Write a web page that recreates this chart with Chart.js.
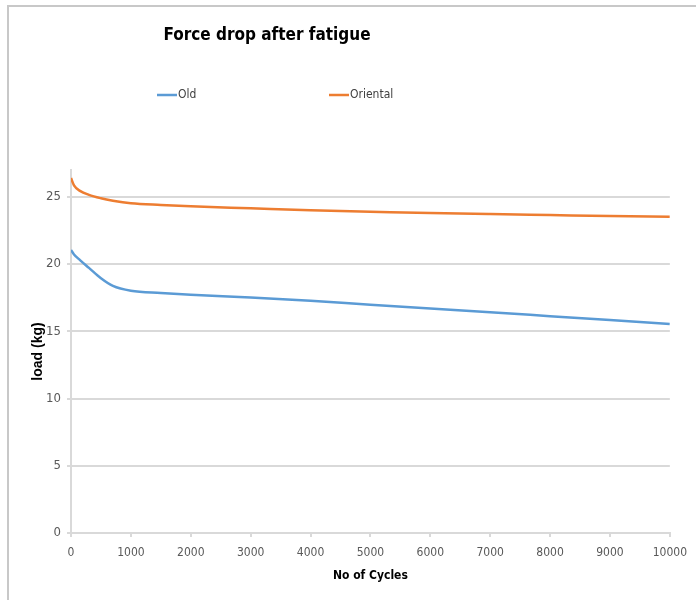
<!DOCTYPE html>
<html>
<head>
<meta charset="utf-8">
<script src="https://cdn.jsdelivr.net/npm/chart.js@4.4.0/dist/chart.umd.min.js"></script>
<style>
  html, body { margin: 0; padding: 0; background: #fff; overflow: hidden; }
  #chart { display: block; }
</style>
</head>
<body>
<canvas id="chart" width="696" height="600"></canvas>
<script>
// data
const cycles = [0, 50, 150, 300, 500, 700, 1000, 1500, 2000, 3000, 4000, 5000, 6000, 7000, 8000, 9000, 10000];
const oldLoad = [21.05, 20.72, 20.3, 19.72, 18.95, 18.38, 18.02, 17.85, 17.72, 17.52, 17.28, 16.98, 16.7, 16.42, 16.13, 15.84, 15.55];
const orientalLoad = [26.4, 25.85, 25.45, 25.15, 24.9, 24.72, 24.53, 24.4, 24.3, 24.15, 24.0, 23.9, 23.8, 23.72, 23.65, 23.58, 23.52];
const seriesNames = ["Old", "Oriental"];
const seriesColors = ["#5b9bd5", "#ed7d31"];
const yTicks = [0, 5, 10, 15, 20, 25];
const chartTitle = "Force drop after fatigue";

const NARROW = '"Liberation Sans Narrow", "DejaVu Sans Condensed", "Liberation Sans", sans-serif';
const WIDE = '"Liberation Sans", Arial, sans-serif';
const GRID = "#d9d9d9";

const toPoints = (ys) => cycles.map((c, i) => ({ x: c, y: ys[i] }));

// cropped outer frame: only top and left edges show in the original
const frame = {
  id: "frame",
  beforeDraw(chart) {
    const c = chart.ctx;
    c.save();
    c.strokeStyle = "#c8c8c8";
    c.lineWidth = 2;
    c.beginPath();
    c.moveTo(8, chart.height);
    c.lineTo(8, 6);
    c.lineTo(chart.width, 6);
    c.stroke();
    c.restore();
  }
};

// title + legend drawn by hand: the original sits them left of centre
// and spreads the two legend entries far apart
const legendPos = [157, 329];
const header = {
  id: "header",
  afterDraw(chart) {
    const c = chart.ctx;
    c.save();
    c.font = "bold 17px " + NARROW;
    c.fillStyle = "#000";
    c.textAlign = "center";
    c.textBaseline = "middle";
    c.fillText(chartTitle, 267, 36);

    c.font = "12px " + NARROW;
    c.textAlign = "left";
    chart.data.datasets.forEach((ds, i) => {
      const x = legendPos[i];
      const y = 95;
      c.strokeStyle = ds.borderColor;
      c.lineWidth = 2.5;
      c.beginPath();
      c.moveTo(x, y);
      c.lineTo(x + 20, y);
      c.stroke();
      c.fillStyle = "#404040";
      c.fillText(ds.label, x + 21, y);
    });
    c.restore();
  }
};

new Chart(document.getElementById("chart"), {
  type: "line",
  data: {
    datasets: [
      {
        label: seriesNames[0],
        data: toPoints(oldLoad),
        borderColor: seriesColors[0],
        backgroundColor: seriesColors[0],
        borderWidth: 2.5,
        pointRadius: 0,
        cubicInterpolationMode: "monotone",
        fill: false
      },
      {
        label: seriesNames[1],
        data: toPoints(orientalLoad),
        borderColor: seriesColors[1],
        backgroundColor: seriesColors[1],
        borderWidth: 2.5,
        pointRadius: 0,
        cubicInterpolationMode: "monotone",
        fill: false
      }
    ]
  },
  options: {
    responsive: false,
    animation: false,
    layout: { padding: { left: 0, right: 24, top: 170, bottom: 0 } },
    plugins: {
      legend: { display: false },
      tooltip: { enabled: false },
      title: { display: false }
    },
    scales: {
      x: {
        type: "linear",
        min: 0,
        max: 10000,
        afterFit: (axis) => { axis.height = 67; },
        ticks: {
          stepSize: 1000,
          color: "#595959",
          padding: 9,
          maxRotation: 0,
          font: { family: NARROW, size: 12 },
          callback: (v) => String(v)
        },
        grid: { drawOnChartArea: false, drawTicks: true, tickLength: 4, color: GRID, lineWidth: 2 },
        border: { color: GRID, width: 2 },
        title: {
          display: true,
          text: "No of Cycles",
          color: "#000",
          font: { family: NARROW, size: 12, weight: "bold" },
          padding: 17
        }
      },
      y: {
        min: 0,
        max: 27,
        afterBuildTicks: (axis) => { axis.ticks = yTicks.map((v) => ({ value: v })); },
        afterFit: (axis) => { axis.width = 71; },
        ticks: {
          color: "#595959",
          padding: 6,
          font: { family: NARROW, size: 13 },
          callback: (v) => String(v)
        },
        grid: { color: GRID, lineWidth: 2, tickLength: 4 },
        border: { color: GRID, width: 2 },
        title: {
          display: true,
          text: "load (kg)",
          color: "#000",
          font: { family: WIDE, size: 14, weight: "bold" },
          padding: 30
        }
      }
    }
  },
  plugins: [frame, header]
});
</script>
</body>
</html>
